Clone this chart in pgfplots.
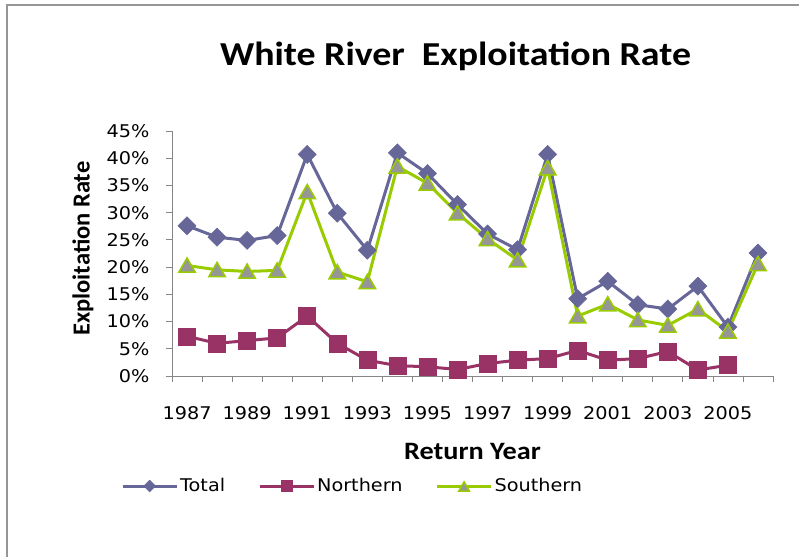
\documentclass[border=0pt]{standalone}
\usepackage{fontspec}
\setmainfont{DejaVu Sans}[FakeStretch=1.1]
\newfontfamily\calibw{Carlito}[FakeStretch=1.13]
\newfontfamily\calib{Carlito}
\usepackage{pgfplots}
\pgfplotsset{compat=1.18}

\definecolor{totc}{RGB}{102,102,153}
\definecolor{norc}{RGB}{153,51,102}
\definecolor{souc}{RGB}{153,204,0}
\definecolor{soufill}{RGB}{150,150,150}
\definecolor{framec}{RGB}{150,150,150}
\definecolor{axisc}{RGB}{134,134,134}

\begin{document}
\begin{tikzpicture}[x=1pt,y=1pt]
\useasboundingbox (0,0) rectangle (799,-557);
\draw[framec, line width=1.5pt] (7,-557) -- (7,-5) -- (799,-5);
\node[font=\calibw\bfseries\fontsize{33.5}{40}\selectfont] at (455.5,-56) {White River\ \ Exploitation Rate};

\begin{axis}[
    at={(172pt,-376pt)}, anchor=south west,
    width=601pt, height=245pt, scale only axis,
    xmin=1986.5, xmax=2006.5, ymin=0, ymax=45,
    axis lines*=left,
    axis line style={draw=axisc, line width=0.8pt},
    tick align=outside,
    xtick={1987,1989,...,2005},
    minor xtick={1986.5,1987.5,...,2006.5},
    major x tick style={draw=none},
    minor tick length=6pt, major tick length=6pt,
    every tick/.style={draw=axisc, line width=0.8pt},
    ytick={0,5,...,45},
    yticklabel={\pgfmathprintnumber{\tick}\%},
    /pgf/number format/assume math mode=true,
    x tick label style={/pgf/number format/1000 sep={}, yshift=-21pt},
    y tick label style={xshift=-13pt},
    ticklabel style={font=\fontsize{17.5}{21}\selectfont},
    xlabel={Return Year},
    ylabel={Exploitation Rate},
    xlabel style={at={(axis description cs:0.5,-0.31)}, anchor=center,
        font=\calibw\bfseries\fontsize{25}{30}\selectfont},
    ylabel style={at={(axis description cs:-0.148,0.52)}, anchor=center,
        font=\calib\bfseries\fontsize{24.5}{29}\selectfont},
    legend style={at={(axis description cs:-0.0899,-0.449)}, anchor=west,
        draw=none, fill=none, legend columns=-1,
        font=\fontsize{17.5}{21}\selectfont,
        /tikz/every even column/.append style={column sep=31pt}},
    legend image code/.code={\draw[mark repeat=2,mark phase=2,
        every mark/.append style={scale=0.65}]
        plot coordinates {(0pt,0pt)(27pt,0pt)(54pt,0pt)};},
]
\addplot[totc, line width=3pt, mark=square*, mark size=6.4pt,
    mark options={rotate=45, fill=totc, draw=totc, line width=0.5pt}]
coordinates {
(1987,27.6) (1988,25.5) (1989,24.9) (1990,25.8) (1991,40.7) (1992,29.9)
(1993,23.1) (1994,41.0) (1995,37.2) (1996,31.5) (1997,26.1) (1998,23.2)
(1999,40.7) (2000,14.2) (2001,17.4) (2002,13.1) (2003,12.3) (2004,16.5)
(2005,9.0) (2006,22.6)
};
\addplot[norc, line width=3pt, mark=square*, mark size=8.5pt,
    mark options={fill=norc, draw=norc, line width=0.5pt}]
coordinates {
(1987,7.3) (1988,6.0) (1989,6.5) (1990,7.0) (1991,11.0) (1992,6.0)
(1993,2.9) (1994,1.9) (1995,1.7) (1996,1.2) (1997,2.3) (1998,2.9)
(1999,3.2) (2000,4.7) (2001,2.9) (2002,3.2) (2003,4.5) (2004,1.1)
(2005,2.0)
};
\addplot[souc, line width=3pt, mark=triangle*, mark size=9.5pt,
    mark options={fill=soufill, draw=souc, line width=1.5pt, yshift=-2pt}]
coordinates {
(1987,20.3) (1988,19.5) (1989,19.2) (1990,19.4) (1991,33.8) (1992,19.1)
(1993,17.3) (1994,38.5) (1995,35.4) (1996,29.9) (1997,25.2) (1998,21.3)
(1999,38.2) (2000,11.0) (2001,13.2) (2002,10.3) (2003,9.3) (2004,12.3)
(2005,8.2) (2006,20.6)
};
\legend{Total,Northern,Southern}
\end{axis}
\end{tikzpicture}
\end{document}
